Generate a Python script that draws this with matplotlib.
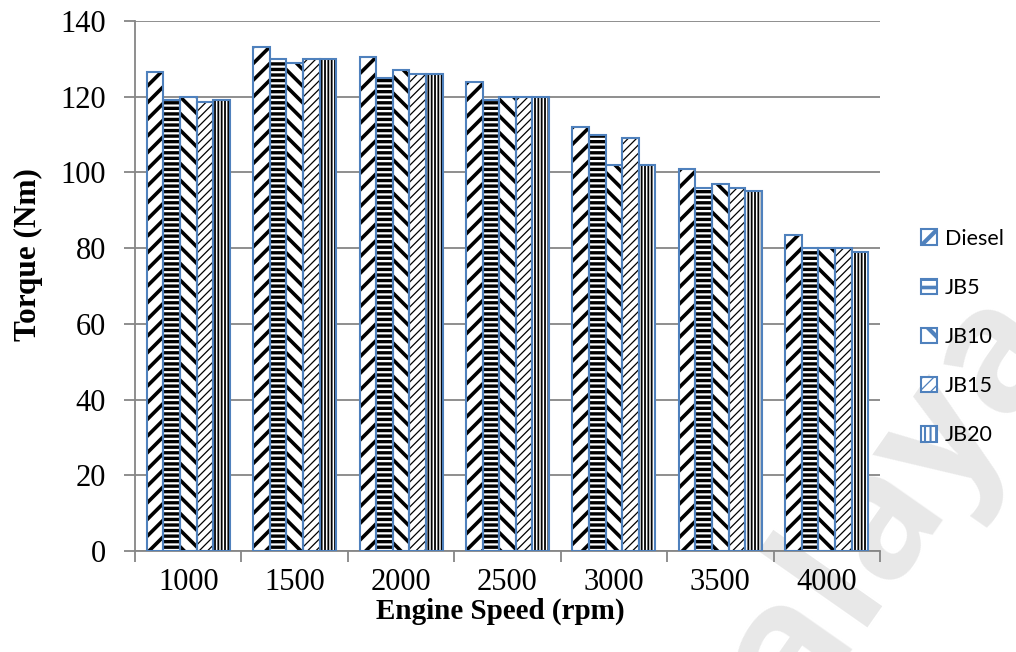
import matplotlib
matplotlib.use("Agg")
import matplotlib.pyplot as plt
import matplotlib.patches as mpatches
import numpy as np

categories = ['1000', '1500', '2000', '2500', '3000', '3500', '4000']
series_names = ['Diesel', 'JB5', 'JB10', 'JB15', 'JB20']
diesel = [126.5, 133, 130.5, 124, 112, 101, 83.5]
jb5 = [119, 130, 125, 119, 110, 96, 80]
jb10 = [120, 129, 127, 120, 102, 97, 80]
jb15 = [118.5, 130, 126, 120, 109, 96, 80]
jb20 = [119, 130, 126, 120, 102, 95, 79]
series = [diesel, jb5, jb10, jb15, jb20]

hatches = ['//', '---', '\\\\', '////', '|||||']
hatch_lw = [2.6, 2.4, 2.6, 0.9, 1.3]
legend_hatches = ['/', '--', '\\', '///', '|||']
legend_hatch_lw = [3.0, 2.6, 3.0, 0.9, 1.5]
edge_blue = '#4F81BD'
grid_gray = '#868686'

fig = plt.figure(figsize=(10.16, 6.52), dpi=100)

# faint watermark
fig.text(0.83, 0.14, 'Malaya', fontsize=125, color='#e8e8e8', rotation=55,
         ha='center', va='center', fontfamily='Open Sans', fontweight='bold', zorder=-10)

ax = fig.add_axes([0.1329, 0.1549, 0.8661 - 0.1329, 0.9678 - 0.1549])
ax.patch.set_alpha(0)

x = np.arange(len(categories))
w = 0.156
has_hlw = hasattr(mpatches.Patch, 'set_hatch_linewidth')
handles = []
for i, (name, vals) in enumerate(zip(series_names, series)):
    pos = x + (i - 2) * w
    bars = ax.bar(pos, vals, w, color='white', edgecolor='black', linewidth=0,
                  hatch=hatches[i], zorder=2)
    if has_hlw:
        for b in bars:
            b.set_hatch_linewidth(hatch_lw[i])
    ax.bar(pos, vals, w, color='none', edgecolor=edge_blue, linewidth=1.5, zorder=3)
    h = mpatches.Patch(facecolor='white', edgecolor=edge_blue, linewidth=1.5,
                       hatch=legend_hatches[i])
    handles.append(h)

ax.set_ylim(0, 140)
ax.set_xlim(-0.5, len(categories) - 0.5)
ax.set_yticks(np.arange(0, 141, 20))
ax.yaxis.grid(True, color=grid_gray, linewidth=1.3, zorder=0)
ax.set_axisbelow(True)

ax.set_xticks(x)
ax.set_xticklabels(categories)
ax.set_xticks(np.arange(-0.5, len(categories), 1.0), minor=True)
ax.tick_params(axis='x', which='major', length=0, pad=12)
ax.tick_params(axis='x', which='minor', length=8, width=1.3, color=grid_gray, direction='out')
ax.tick_params(axis='y', length=8, width=1.3, color=grid_gray, pad=13)

for lab in ax.get_xticklabels() + ax.get_yticklabels():
    lab.set_fontfamily('Liberation Serif')
    lab.set_fontsize(22)

for s in ['top', 'right']:
    ax.spines[s].set_visible(False)
for s in ['left', 'bottom']:
    ax.spines[s].set_color(grid_gray)
    ax.spines[s].set_linewidth(1.3)

fig.text(500 / 1016, 1 - 619 / 652, 'Engine Speed (rpm)', fontfamily='Liberation Serif',
         fontsize=21, fontweight='bold', ha='center', va='baseline')
fig.text(28 / 1016, 1 - 255 / 652, 'Torque (Nm)', fontfamily='Liberation Serif',
         fontsize=22.5, fontweight='bold', ha='center', va='center', rotation=90)

leg = fig.legend(handles, series_names, loc='center left', bbox_to_anchor=(921 / 1016, 1 - 337 / 652),
                 frameon=False, prop={'family': 'Lato', 'size': 15.5},
                 handlelength=0.75, handleheight=0.75, handletextpad=0.35,
                 labelspacing=1.35, borderaxespad=0, borderpad=0)
if has_hlw:
    for p, lw in zip(leg.get_patches(), legend_hatch_lw):
        p.set_hatch_linewidth(lw)

fig.savefig('out.png', dpi=100)
